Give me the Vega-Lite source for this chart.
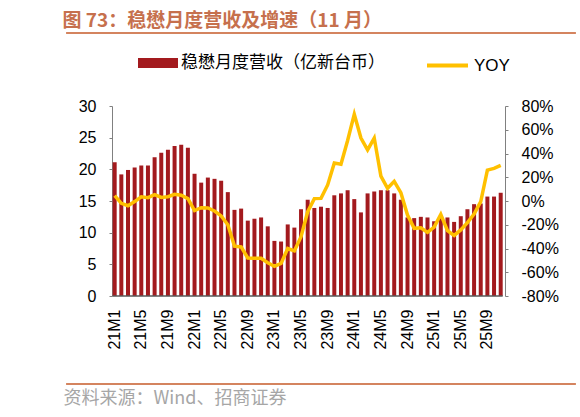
{
  "$schema": "https://vega.github.io/schema/vega-lite/v6.json",
  "width": 518,
  "height": 190,
  "autosize": {"type": "none"},
  "padding": {"left": 62, "top": 106, "right": 0, "bottom": 121},
  "config": {
    "font": "Liberation Sans",
    "view": {"stroke": null}
  },
  "data": {
    "values": [
      {"m": "21M1", "rev": 21.1, "yoy": 4.5},
      {"m": "21M2", "rev": 19.2, "yoy": -2},
      {"m": "21M3", "rev": 19.9, "yoy": -4},
      {"m": "21M4", "rev": 20.3, "yoy": -0.5},
      {"m": "21M5", "rev": 20.6, "yoy": 3.5},
      {"m": "21M6", "rev": 20.6, "yoy": 2.8},
      {"m": "21M7", "rev": 21.9, "yoy": 5.3},
      {"m": "21M8", "rev": 22.6, "yoy": 3},
      {"m": "21M9", "rev": 23.1, "yoy": 3.6},
      {"m": "21M10", "rev": 23.7, "yoy": 5.6},
      {"m": "21M11", "rev": 23.9, "yoy": 4.8},
      {"m": "21M12", "rev": 23.4, "yoy": 2},
      {"m": "22M1", "rev": 19.3, "yoy": -8},
      {"m": "22M2", "rev": 17.9, "yoy": -5.6},
      {"m": "22M3", "rev": 18.7, "yoy": -5.9},
      {"m": "22M4", "rev": 18.5, "yoy": -8.4},
      {"m": "22M5", "rev": 18.2, "yoy": -12.6},
      {"m": "22M6", "rev": 16.4, "yoy": -20},
      {"m": "22M7", "rev": 13.6, "yoy": -38},
      {"m": "22M8", "rev": 13.8, "yoy": -38.7},
      {"m": "22M9", "rev": 11.9, "yoy": -48},
      {"m": "22M10", "rev": 12.2, "yoy": -48.3},
      {"m": "22M11", "rev": 12.4, "yoy": -48.3},
      {"m": "22M12", "rev": 11.0, "yoy": -52},
      {"m": "23M1", "rev": 8.7, "yoy": -55},
      {"m": "23M2", "rev": 8.6, "yoy": -52.5},
      {"m": "23M3", "rev": 11.3, "yoy": -40},
      {"m": "23M4", "rev": 10.8, "yoy": -42},
      {"m": "23M5", "rev": 13.7, "yoy": -30},
      {"m": "23M6", "rev": 15.2, "yoy": -9},
      {"m": "23M7", "rev": 13.9, "yoy": 2},
      {"m": "23M8", "rev": 14.1, "yoy": 2.2},
      {"m": "23M9", "rev": 13.9, "yoy": 13.5},
      {"m": "23M10", "rev": 15.9, "yoy": 32},
      {"m": "23M11", "rev": 16.2, "yoy": 31},
      {"m": "23M12", "rev": 16.7, "yoy": 51},
      {"m": "24M1", "rev": 15.3, "yoy": 73},
      {"m": "24M2", "rev": 13.2, "yoy": 53},
      {"m": "24M3", "rev": 16.2, "yoy": 43},
      {"m": "24M4", "rev": 16.5, "yoy": 53},
      {"m": "24M5", "rev": 16.7, "yoy": 21},
      {"m": "24M6", "rev": 16.7, "yoy": 10.7},
      {"m": "24M7", "rev": 16.2, "yoy": 16.6},
      {"m": "24M8", "rev": 15.2, "yoy": 7},
      {"m": "24M9", "rev": 12.4, "yoy": -11.8},
      {"m": "24M10", "rev": 12.3, "yoy": -23},
      {"m": "24M11", "rev": 12.5, "yoy": -22.5},
      {"m": "24M12", "rev": 12.4, "yoy": -26.4},
      {"m": "25M1", "rev": 11.8, "yoy": -22},
      {"m": "25M2", "rev": 12.4, "yoy": -11.2},
      {"m": "25M3", "rev": 12.4, "yoy": -25},
      {"m": "25M4", "rev": 11.7, "yoy": -29},
      {"m": "25M5", "rev": 12.6, "yoy": -24.4},
      {"m": "25M6", "rev": 13.7, "yoy": -18.2},
      {"m": "25M7", "rev": 14.5, "yoy": -11},
      {"m": "25M8", "rev": 14.6, "yoy": -0.5},
      {"m": "25M9", "rev": 15.7, "yoy": 26},
      {"m": "25M10", "rev": 15.7, "yoy": 27.5},
      {"m": "25M11", "rev": 16.3, "yoy": 30}
    ]
  },
  "layer": [
    {
      "mark": {"type": "bar", "color": "#A31A1E"},
      "encoding": {
        "x": {
          "field": "m",
          "type": "ordinal",
          "scale": {
            "domain": ["_L1","_L2","_L3","_L4","_L5","_L6","_L7",
                       "21M1","21M2","21M3","21M4","21M5","21M6","21M7","21M8","21M9","21M10","21M11","21M12",
                       "22M1","22M2","22M3","22M4","22M5","22M6","22M7","22M8","22M9","22M10","22M11","22M12",
                       "23M1","23M2","23M3","23M4","23M5","23M6","23M7","23M8","23M9","23M10","23M11","23M12",
                       "24M1","24M2","24M3","24M4","24M5","24M6","24M7","24M8","24M9","24M10","24M11","24M12",
                       "25M1","25M2","25M3","25M4","25M5","25M6","25M7","25M8","25M9","25M10","25M11",
                       "_R1","_R2","_R3","_R4","_R5","_R6","_R7","_R8","_R9","_R10","_R11"],
            "paddingInner": 0.4,
            "paddingOuter": 0.615
          },
          "axis": {
            "orient": "bottom",
            "offset": 88,
            "values": ["21M1","21M5","21M9","22M1","22M5","22M9","23M1","23M5","23M9","24M1","24M5","24M9","25M1","25M5","25M9"],
            "labelAngle": 270,
            "labelFontSize": 16,
            "labelColor": "#000000",
            "labelPadding": -75,
            "ticks": false,
            "tickSize": 0,
            "domain": false,
            "title": "资料来源：Wind、招商证券",
            "titleFont": "Noto Sans CJK SC",
            "titleFontSize": 18,
            "titleFontWeight": "normal",
            "titleColor": "#A6A6A6",
            "titleAlign": "left",
            "titleBaseline": "middle",
            "titleX": 1,
            "titleY": 14
          }
        },
        "y": {
          "field": "rev",
          "type": "quantitative",
          "scale": {"domain": [0, 30]},
          "axis": {
            "orient": "left",
            "offset": -50,
            "values": [0, 5, 10, 15, 20, 25, 30],
            "labelOverlap": false,
            "grid": false,
            "labelFontSize": 16,
            "labelColor": "#000000",
            "labelPadding": 13,
            "tickSize": 3,
            "tickColor": "#808080",
            "domainColor": "#808080",
            "title": null
          }
        },
        "fill": {
          "datum": "稳懋月度营收（亿新台币）",
          "scale": {"range": ["#A31A1E"]},
          "legend": {
            "orient": "none",
            "legendX": 76,
            "legendY": -63,
            "padding": 0,
            "title": null,
            "symbolType": "M-1,-0.25H1V0.25H-1Z",
            "symbolSize": 1600,
            "symbolStrokeWidth": 0,
            "symbolOpacity": 1,
            "labelFont": "Noto Sans CJK SC",
            "labelFontSize": 17,
            "labelColor": "#000000",
            "labelOffset": 3,
            "labelLimit": 400
          }
        }
      }
    },
    {
      "data": {"values": [{"a": "21M1", "b": "25M11", "v": -80}]},
      "mark": {"type": "rule", "color": "#595959", "strokeWidth": 1.5},
      "encoding": {
        "x": {"field": "a", "type": "ordinal", "bandPosition": 0, "axis": null},
        "x2": {"field": "b", "bandPosition": 1},
        "y": {"field": "v", "type": "quantitative", "scale": {"domain": [-80, 80]}, "axis": null}
      }
    },
    {
      "data": {"values": [{"a": "_L1", "b": "_R11", "v": 141.5}, {"a": "_L1", "b": "_R11", "v": -154.1}]},
      "mark": {"type": "rule", "color": "#D4845F", "strokeWidth": 2},
      "encoding": {
        "x": {"field": "a", "type": "ordinal", "bandPosition": 0, "axis": null},
        "x2": {"field": "b", "bandPosition": 1},
        "y": {"field": "v", "type": "quantitative", "scale": {"domain": [-80, 80]}, "axis": null}
      }
    },
    {
      "mark": {"type": "line", "color": "#FFC000", "strokeWidth": 3.5},
      "encoding": {
        "x": {
          "field": "m",
          "type": "ordinal",
          "axis": {
            "orient": "top",
            "labels": false,
            "ticks": false,
            "domain": false,
            "title": "图 73：稳懋月度营收及增速（11 月）",
            "titleFont": "Noto Sans CJK SC",
            "titleFontSize": 19,
            "titleFontWeight": "bold",
            "titleColor": "#C6704D",
            "titleAlign": "left",
            "titleBaseline": "middle",
            "titleX": 0,
            "titleY": -86
          }
        },
        "y": {
          "field": "yoy",
          "type": "quantitative",
          "scale": {"domain": [-80, 80]},
          "axis": {
            "orient": "right",
            "offset": -75,
            "values": [-80, -60, -40, -20, 0, 20, 40, 60, 80],
            "labelExpr": "datum.value + '%'",
            "labelOverlap": false,
            "grid": false,
            "labelFontSize": 16,
            "labelColor": "#000000",
            "labelPadding": 13,
            "tickSize": 3,
            "tickColor": "#808080",
            "domainColor": "#808080",
            "title": null
          }
        },
        "stroke": {
          "datum": "YOY",
          "scale": {"range": ["#FFC000"]},
          "legend": {
            "orient": "none",
            "legendX": 363,
            "legendY": -63,
            "padding": 0,
            "title": null,
            "symbolType": "stroke",
            "symbolSize": 1681,
            "symbolStrokeWidth": 4,
            "labelFont": "Liberation Sans",
            "labelFontSize": 17,
            "labelColor": "#000000",
            "labelOffset": 4
          }
        }
      }
    }
  ],
  "resolve": {
    "scale": {"y": "independent"},
    "axis": {"x": "independent", "y": "independent"}
  }
}
